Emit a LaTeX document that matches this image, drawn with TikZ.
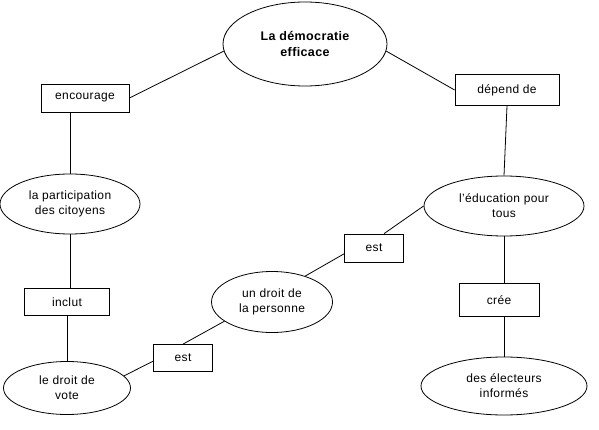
\documentclass[tikz,border=0pt]{standalone}
\usepackage{fontspec}
\setmainfont{Liberation Sans}[LetterSpace=3]
\usetikzlibrary{shapes.geometric}
\begin{document}
\begin{tikzpicture}[x=1pt,y=-1pt,
  conc/.style={ellipse, draw, line width=0.8pt, inner sep=0pt, align=center, font=\fontsize{12}{15}\selectfont},
  rel/.style={rectangle, draw, line width=0.8pt, inner sep=0pt, font=\fontsize{12}{15}\selectfont},
  link/.style={draw, line width=0.8pt}]
\useasboundingbox (0,0) rectangle (599,430);
\node[conc, minimum width=164pt, minimum height=84pt, font=\fontsize{12.5}{16}\selectfont\bfseries] (top) at (305,44) {La démocratie\\efficace};
\node[rel, minimum width=88pt, minimum height=28pt] (enc) at (85,98) {encourage};
\node[conc, minimum width=140pt, minimum height=60pt] (part) at (70,204) {la participation\\des citoyens};
\node[rel, minimum width=104pt, minimum height=31pt] (dep) at (507,90) {dépend de};
\node[conc, minimum width=160pt, minimum height=60pt] (edu) at (504,206) {l'éducation pour\\tous};
\node[rel, minimum width=85pt, minimum height=27pt] (incl) at (67,302) {inclut};
\node[conc, minimum width=127pt, minimum height=53pt] (vote) at (67,388) {le droit de\\vote};
\node[rel, minimum width=59pt, minimum height=27pt] (est1) at (183,358) {est};
\node[conc, minimum width=121pt, minimum height=61pt] (pers) at (272,302) {un droit de\\la personne};
\node[rel, minimum width=59pt, minimum height=28pt] (est2) at (374,248) {est};
\node[rel, minimum width=80pt, minimum height=33pt] (cree) at (499,300) {crée};
\node[conc, minimum width=166pt, minimum height=58pt] (elec) at (504,386) {des électeurs\\informés};
\draw[link] (enc.east) -- (top.185);
\draw[link] (dep.west) -- (top.-5);
\draw[link] (part.north) -- (part.north |- enc.south);
\draw[link] (part.south) -- (part.south |- incl.north);
\draw[link] (incl.south) -- (vote.north);
\draw[link] (dep.south) -- (edu.north);
\draw[link] (edu.south) -- (edu.south |- cree.north);
\draw[link] (cree.south -| edu.south) -- (elec.north -| edu.south);
\draw[link] (edu.west) -- (est2.55);
\draw[link] (est2.191) -- (pers.38);
\draw[link] (pers.202) -- (est1.north);
\draw[link] (est1.186) -- (vote.12);
\end{tikzpicture}
\end{document}
